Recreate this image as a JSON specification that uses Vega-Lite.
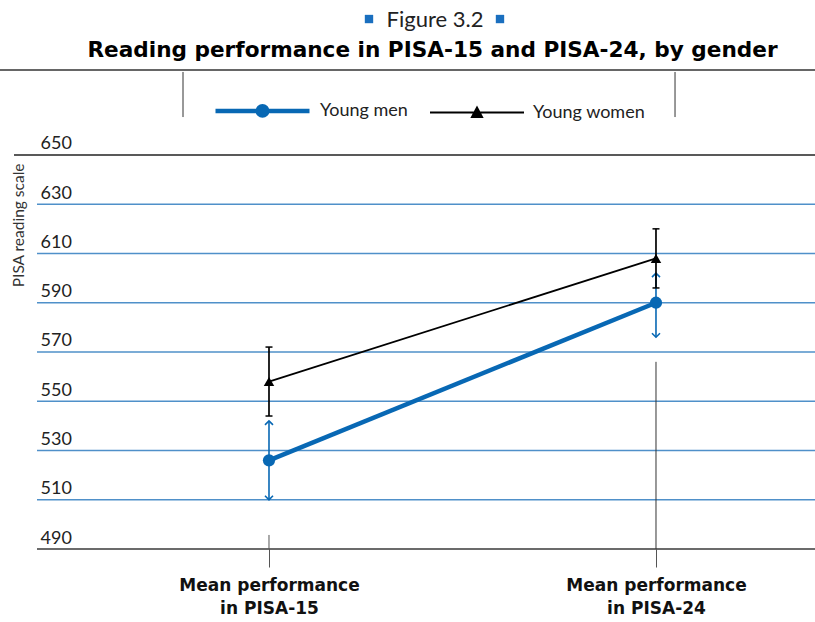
{
  "$schema": "https://vega.github.io/schema/vega-lite/v6.json",
  "width": 815,
  "height": 479,
  "autosize": "none",
  "padding": {"left": 0, "top": 70, "right": 0, "bottom": 73},
  "background": "white",
  "datasets": {
    "scores": [
      {"wave": 1, "gender": "Young men", "mean": 526, "lo": 510, "hi": 542},
      {"wave": 2, "gender": "Young men", "mean": 590, "lo": 576, "hi": 602},
      {"wave": 1, "gender": "Young women", "mean": 558, "lo": 544, "hi": 572},
      {"wave": 2, "gender": "Young women", "mean": 608, "lo": 596, "hi": 620}
    ],
    "grid": [
      {"v": 490}, {"v": 510}, {"v": 530}, {"v": 550}, {"v": 570},
      {"v": 590}, {"v": 610}, {"v": 630}, {"v": 650}
    ],
    "figure": [{"label": "Figure 3.2"}],
    "heading": [{"label": "Reading performance in PISA-15 and PISA-24, by gender"}],
    "one": [{}]
  },
  "layer": [
    {
      "data": {"name": "grid"},
      "transform": [{"filter": "datum.v != 650"}],
      "mark": {"type": "rule", "strokeWidth": 1.4},
      "encoding": {
        "x": {"datum": 0.4005, "type": "quantitative",
              "scale": {"domain": [0.3049, 2.4109], "nice": false, "zero": false},
              "axis": {"values": [1, 2], "title": null, "grid": false, "domain": false,
                       "ticks": true, "tickSize": 18, "tickColor": "#555555", "tickWidth": 1,
                       "labelExpr": "datum.value == 1 ? ['Mean performance', 'in PISA-15'] : ['Mean performance', 'in PISA-24']",
                       "labelFont": "DejaVu Sans", "labelFontSize": 17, "labelFontWeight": "bold",
                       "labelColor": "#111111", "labelPadding": 10, "labelLineHeight": 23,
                       "labelLimit": 400}},
        "x2": {"datum": 2.4109},
        "y": {"field": "v", "type": "quantitative",
              "scale": {"domain": [490, 684.5], "nice": false, "zero": false},
              "axis": {"values": [490, 510, 530, 550, 570, 590, 610, 630, 650],
                       "title": "PISA reading scale", "grid": false, "domain": false,
                       "ticks": false, "tickSize": 0,
                       "labelAlign": "left", "labelBaseline": "alphabetic", "labelPadding": -40,
                       "labelOffset": -6, "labelFont": "Lato", "labelFontSize": 18,
                       "labelColor": "#222222", "labelFlush": false,
                       "titleFont": "Lato", "titleFontSize": 15.5, "titleFontWeight": "normal",
                       "titleColor": "#333333", "titleAngle": -90, "titleAlign": "right",
                       "titleBaseline": "middle", "titleX": 18, "titleY": 93}},
        "color": {"condition": {"test": "datum.v == 490", "value": "#3a3a3a"}, "value": "#4f90c9"}
      }
    },
    {
      "data": {"name": "grid"},
      "transform": [{"filter": "datum.v == 650"}],
      "mark": {"type": "rule", "strokeWidth": 1.4, "color": "#222222"},
      "encoding": {
        "x": {"datum": 0.3411, "type": "quantitative", "scale": {"domain": [0.3049, 2.4109], "nice": false, "zero": false}},
        "x2": {"datum": 2.4109},
        "y": {"field": "v", "type": "quantitative", "scale": {"domain": [490, 684.5], "nice": false, "zero": false}}
      }
    },
    {
      "data": {"name": "one"},
      "mark": {"type": "rule", "strokeWidth": 1.5, "color": "#333333"},
      "encoding": {
        "y": {"datum": 684.5, "type": "quantitative", "scale": {"domain": [490, 684.5], "nice": false, "zero": false}}
      }
    },
    {
      "data": {"name": "figure"},
      "mark": {"type": "text", "font": "Lato", "fontSize": 22, "color": "#222222", "align": "center", "baseline": "alphabetic"},
      "encoding": {
        "x": {"datum": 1.4290, "type": "quantitative", "scale": {"domain": [0.3049, 2.4109], "nice": false, "zero": false}},
        "y": {"datum": 701.96, "type": "quantitative", "scale": {"domain": [490, 684.5], "nice": false, "zero": false}},
        "text": {"field": "label"}
      }
    },
    {
      "data": {"name": "heading"},
      "mark": {"type": "text", "font": "DejaVu Sans", "fontSize": 21.6, "fontWeight": "bold", "color": "#000000", "align": "center", "baseline": "alphabetic"},
      "encoding": {
        "x": {"datum": 1.4225, "type": "quantitative", "scale": {"domain": [0.3049, 2.4109], "nice": false, "zero": false}},
        "y": {"datum": 689.9, "type": "quantitative", "scale": {"domain": [490, 684.5], "nice": false, "zero": false}},
        "text": {"field": "label"}
      }
    },
    {
      "data": {"name": "one"},
      "mark": {"type": "point", "shape": "square", "size": 70, "filled": true, "color": "#1a6fbf", "opacity": 1},
      "encoding": {
        "x": {"datum": 1.2584, "type": "quantitative", "scale": {"domain": [0.3049, 2.4109], "nice": false, "zero": false}},
        "y": {"datum": 705.2, "type": "quantitative", "scale": {"domain": [490, 684.5], "nice": false, "zero": false}}
      }
    },
    {
      "data": {"name": "one"},
      "mark": {"type": "point", "shape": "square", "size": 70, "filled": true, "color": "#1a6fbf", "opacity": 1},
      "encoding": {
        "x": {"datum": 1.5969, "type": "quantitative", "scale": {"domain": [0.3049, 2.4109], "nice": false, "zero": false}},
        "y": {"datum": 705.2, "type": "quantitative", "scale": {"domain": [490, 684.5], "nice": false, "zero": false}}
      }
    },
    {
      "data": {"name": "one"},
      "mark": {"type": "rule", "strokeWidth": 1, "color": "#333333"},
      "encoding": {
        "x": {"datum": 0.7778, "type": "quantitative", "scale": {"domain": [0.3049, 2.4109], "nice": false, "zero": false}},
        "y": {"datum": 683.7, "type": "quantitative", "scale": {"domain": [490, 684.5], "nice": false, "zero": false}},
        "y2": {"datum": 665.4}
      }
    },
    {
      "data": {"name": "one"},
      "mark": {"type": "rule", "strokeWidth": 1, "color": "#333333"},
      "encoding": {
        "x": {"datum": 2.0492, "type": "quantitative", "scale": {"domain": [0.3049, 2.4109], "nice": false, "zero": false}},
        "y": {"datum": 683.7, "type": "quantitative", "scale": {"domain": [490, 684.5], "nice": false, "zero": false}},
        "y2": {"datum": 665.4}
      }
    },
    {
      "data": {"name": "one"},
      "mark": {"type": "rule", "strokeWidth": 1, "color": "#555555"},
      "encoding": {
        "x": {"datum": 1, "type": "quantitative", "scale": {"domain": [0.3049, 2.4109], "nice": false, "zero": false}},
        "y": {"datum": 490, "type": "quantitative", "scale": {"domain": [490, 684.5], "nice": false, "zero": false}},
        "y2": {"datum": 495.7}
      }
    },
    {
      "data": {"name": "one"},
      "mark": {"type": "rule", "strokeWidth": 1, "color": "#333333"},
      "encoding": {
        "x": {"datum": 2, "type": "quantitative", "scale": {"domain": [0.3049, 2.4109], "nice": false, "zero": false}},
        "y": {"datum": 490, "type": "quantitative", "scale": {"domain": [490, 684.5], "nice": false, "zero": false}},
        "y2": {"datum": 566}
      }
    },
    {
      "data": {"name": "scores"},
      "transform": [{"filter": "datum.gender == 'Young men'"}],
      "mark": {"type": "rule", "strokeWidth": 1.6, "color": "#0868b4"},
      "encoding": {
        "x": {"field": "wave", "type": "quantitative", "scale": {"domain": [0.3049, 2.4109], "nice": false, "zero": false}},
        "y": {"field": "lo", "type": "quantitative", "scale": {"domain": [490, 684.5], "nice": false, "zero": false}},
        "y2": {"field": "hi"}
      }
    },
    {
      "data": {"name": "scores"},
      "transform": [{"filter": "datum.gender == 'Young men'"}],
      "mark": {"type": "point", "shape": "M-1,1L0,0L1,1", "size": 64, "filled": false, "strokeWidth": 1.6, "color": "#0868b4", "opacity": 1},
      "encoding": {
        "x": {"field": "wave", "type": "quantitative", "scale": {"domain": [0.3049, 2.4109], "nice": false, "zero": false}},
        "y": {"field": "hi", "type": "quantitative", "scale": {"domain": [490, 684.5], "nice": false, "zero": false}}
      }
    },
    {
      "data": {"name": "scores"},
      "transform": [{"filter": "datum.gender == 'Young men'"}],
      "mark": {"type": "point", "shape": "M-1,-1L0,0L1,-1", "size": 64, "filled": false, "strokeWidth": 1.6, "color": "#0868b4", "opacity": 1},
      "encoding": {
        "x": {"field": "wave", "type": "quantitative", "scale": {"domain": [0.3049, 2.4109], "nice": false, "zero": false}},
        "y": {"field": "lo", "type": "quantitative", "scale": {"domain": [490, 684.5], "nice": false, "zero": false}}
      }
    },
    {
      "data": {"name": "scores"},
      "mark": {"type": "line"},
      "encoding": {
        "x": {"field": "wave", "type": "quantitative", "scale": {"domain": [0.3049, 2.4109], "nice": false, "zero": false}},
        "y": {"field": "mean", "type": "quantitative", "scale": {"domain": [490, 684.5], "nice": false, "zero": false}},
        "color": {"field": "gender", "type": "nominal",
                  "scale": {"domain": ["Young men", "Young women"], "range": ["#0868b4", "#000000"]},
                  "legend": {"orient": "none", "legendX": 213, "legendY": -9, "direction": "horizontal",
                             "title": null, "padding": 0, "symbolSize": 8836, "symbolType": "stroke",
                             "labelFont": "Lato", "labelFontSize": 18, "labelColor": "#222222",
                             "labelOffset": 8, "columnPadding": 18,
                             "encode": {"symbols": {"update": {
                               "shape": {"signal": "datum.value === 'Young men' ? 'M-1,0H1M-0.1,0A0.1,0.1 0 1 0 0.1,0A0.1,0.1 0 1 0 -0.1,0Z' : 'M-1,0H1M-0.11,0.1L0.11,0.1L0,-0.11Z'"},
                               "strokeWidth": {"signal": "datum.value === 'Young men' ? 4 : 1.5"},
                               "fill": {"signal": "datum.value === 'Young men' ? '#0868b4' : '#000000'"},
                               "fillOpacity": {"value": 1},
                               "opacity": {"value": 1}
                             }}}}},
        "strokeWidth": {"field": "gender", "type": "nominal",
                        "scale": {"domain": ["Young men", "Young women"], "range": [4.5, 1.8]},
                        "legend": null}
      }
    },
    {
      "data": {"name": "scores"},
      "transform": [{"filter": "datum.gender == 'Young men'"}],
      "mark": {"type": "point", "shape": "circle", "size": 150, "filled": true, "color": "#0868b4", "opacity": 1},
      "encoding": {
        "x": {"field": "wave", "type": "quantitative", "scale": {"domain": [0.3049, 2.4109], "nice": false, "zero": false}},
        "y": {"field": "mean", "type": "quantitative", "scale": {"domain": [490, 684.5], "nice": false, "zero": false}}
      }
    },
    {
      "data": {"name": "scores"},
      "transform": [{"filter": "datum.gender == 'Young women'"}],
      "mark": {"type": "rule", "strokeWidth": 1.7, "color": "#000000"},
      "encoding": {
        "x": {"field": "wave", "type": "quantitative", "scale": {"domain": [0.3049, 2.4109], "nice": false, "zero": false}},
        "y": {"field": "lo", "type": "quantitative", "scale": {"domain": [490, 684.5], "nice": false, "zero": false}},
        "y2": {"field": "hi"}
      }
    },
    {
      "data": {"name": "scores"},
      "transform": [{"filter": "datum.gender == 'Young women'"}],
      "mark": {"type": "point", "shape": "M-1,0L1,0", "size": 49, "filled": false, "strokeWidth": 1.5, "color": "#000000", "opacity": 1},
      "encoding": {
        "x": {"field": "wave", "type": "quantitative", "scale": {"domain": [0.3049, 2.4109], "nice": false, "zero": false}},
        "y": {"field": "hi", "type": "quantitative", "scale": {"domain": [490, 684.5], "nice": false, "zero": false}}
      }
    },
    {
      "data": {"name": "scores"},
      "transform": [{"filter": "datum.gender == 'Young women'"}],
      "mark": {"type": "point", "shape": "M-1,0L1,0", "size": 49, "filled": false, "strokeWidth": 1.5, "color": "#000000", "opacity": 1},
      "encoding": {
        "x": {"field": "wave", "type": "quantitative", "scale": {"domain": [0.3049, 2.4109], "nice": false, "zero": false}},
        "y": {"field": "lo", "type": "quantitative", "scale": {"domain": [490, 684.5], "nice": false, "zero": false}}
      }
    },
    {
      "data": {"name": "scores"},
      "transform": [{"filter": "datum.gender == 'Young women'"}],
      "mark": {"type": "point", "shape": "triangle-up", "size": 110, "filled": true, "color": "#000000", "opacity": 1},
      "encoding": {
        "x": {"field": "wave", "type": "quantitative", "scale": {"domain": [0.3049, 2.4109], "nice": false, "zero": false}},
        "y": {"field": "mean", "type": "quantitative", "scale": {"domain": [490, 684.5], "nice": false, "zero": false}}
      }
    }
  ],
  "config": {
    "view": {"stroke": null},
    "axis": {"grid": false}
  }
}
